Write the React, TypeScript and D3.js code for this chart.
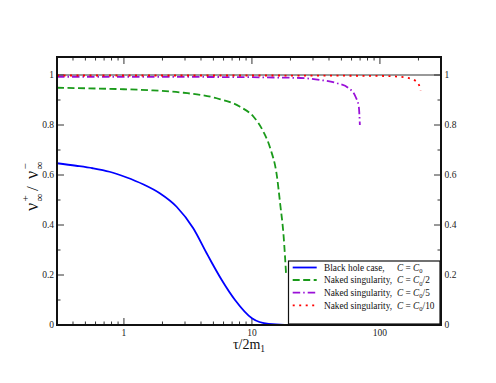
import React from "react";
import * as d3 from "d3";

const W = 496;
const H = 383;

// Series data (tau/2m1, nu+/nu-)
const blackHoleX = [0.3, 0.423, 0.571, 0.772, 1.04, 1.41, 1.905, 2.58, 3.48, 4.43, 4.85, 5.81, 7.38, 10, 13.5, 18, 25, 300];
const blackHoleY = [0.647, 0.637, 0.627, 0.613, 0.591, 0.563, 0.527, 0.473, 0.387, 0.287, 0.25, 0.18, 0.1, 0.027, 0.004, 0.0005, 0, 0];

const naked2X = [0.3, 0.6, 1, 1.59, 2.92, 5.3, 8.08, 10.3, 12.3, 13.9, 15.7, 16.6, 17.7, 18.5];
const naked2Y = [0.949, 0.946, 0.943, 0.939, 0.929, 0.907, 0.873, 0.833, 0.773, 0.707, 0.593, 0.487, 0.353, 0.2];

const naked5X = [0.3, 5, 15, 23.9, 34.3, 46.3, 57.1, 64.5, 68.4, 69.7];
const naked5Y = [0.993, 0.992, 0.99, 0.988, 0.98, 0.967, 0.947, 0.913, 0.873, 0.8];

const naked10X = [0.3, 10, 60, 108, 155, 190, 202, 208];
const naked10Y = [0.998, 0.998, 0.997, 0.996, 0.991, 0.977, 0.96, 0.937];

const xMajorTicks = [1, 10, 100];
const xMinorTicks = [0.4, 0.5, 0.6, 0.7, 0.8, 0.9, 2, 3, 4, 5, 6, 7, 8, 9, 20, 30, 40, 50, 60, 70, 80, 90, 200, 300];
const yMajorTicks = [0, 0.2, 0.4, 0.6, 0.8, 1];
const yMinorTicks = [0.1, 0.3, 0.5, 0.7, 0.9];

const legendLabels = ["Black hole case,", "Naked singularity,", "Naked singularity,", "Naked singularity,"];
const legendSuffix = ["", "/2", "/5", "/10"];

const left = 57, right = 441, top = 57, bottom = 325;

export default function App() {
  const x = d3.scaleLog().domain([0.3, 300]).range([left, right]);
  const y = d3.scaleLinear().domain([0, 1.072]).range([bottom, top]);

  const line = d3
    .line<[number, number]>()
    .x((d) => x(d[0]))
    .y((d) => y(d[1]))
    .curve(d3.curveMonotoneX);

  const zip = (a: number[], b: number[]) => a.map((v, i) => [v, b[i]] as [number, number]);

  const series = [
    { data: zip(blackHoleX, blackHoleY), color: "#0000ff", dash: "none" },
    { data: zip(naked2X, naked2Y), color: "#1a9a1a", dash: "7,3.5" },
    { data: zip(naked5X, naked5Y), color: "#9a10d8", dash: "7.5,3,1.5,3" },
    { data: zip(naked10X, naked10Y), color: "#ff0000", dash: "2,4.5" },
  ];

  const serif = "'Liberation Serif', 'Times New Roman', Times, serif";
  const tickColor = "#333";

  const legX = 288.5, legY = 261, legW = 151.5, legH = 63;
  const rowY = [267.5, 280, 292.7, 305.3];

  return (
    <svg width={W} height={H} style={{ position: "absolute", left: 0, top: 0, fontFamily: serif }}>
      <rect width={W} height={H} fill="white" />
      <defs>
        <clipPath id="plot">
          <rect x={left} y={top} width={right - left} height={bottom - top} />
        </clipPath>
      </defs>

      {/* reference line at 1 */}
      <line x1={left} x2={right} y1={y(1)} y2={y(1)} stroke="#999" strokeWidth={2} />

      {/* x ticks */}
      {xMajorTicks.map((t) => (
        <g key={"xM" + t}>
          <line x1={x(t)} x2={x(t)} y1={bottom} y2={bottom - 7} stroke={tickColor} strokeWidth={1} />
          <line x1={x(t)} x2={x(t)} y1={top} y2={top + 7} stroke={tickColor} strokeWidth={1} />
          <text x={x(t)} y={335.5} fontSize={9.5} textAnchor="middle" fill="#222" style={{ fontFamily: serif }}>
            {t}
          </text>
        </g>
      ))}
      {xMinorTicks.map((t) => (
        <g key={"xm" + t}>
          <line x1={x(t)} x2={x(t)} y1={bottom} y2={bottom - 3.5} stroke={tickColor} strokeWidth={1} />
          <line x1={x(t)} x2={x(t)} y1={top} y2={top + 3.5} stroke={tickColor} strokeWidth={1} />
        </g>
      ))}

      {/* y ticks */}
      {yMajorTicks.map((t) => (
        <g key={"yM" + t}>
          <line x1={left} x2={left + 7} y1={y(t)} y2={y(t)} stroke={tickColor} strokeWidth={1} />
          <line x1={right} x2={right - 7} y1={y(t)} y2={y(t)} stroke={tickColor} strokeWidth={1} />
          <text x={54} y={y(t) + 3.3} fontSize={9.5} textAnchor="end" fill="#222" style={{ fontFamily: serif }}>
            {String(t)}
          </text>
          <text x={444.5} y={y(t) + 3.3} fontSize={9.5} textAnchor="start" fill="#222" style={{ fontFamily: serif }}>
            {String(t)}
          </text>
        </g>
      ))}
      {yMinorTicks.map((t) => (
        <g key={"ym" + t}>
          <line x1={left} x2={left + 3.5} y1={y(t)} y2={y(t)} stroke={tickColor} strokeWidth={1} />
          <line x1={right} x2={right - 3.5} y1={y(t)} y2={y(t)} stroke={tickColor} strokeWidth={1} />
        </g>
      ))}

      {/* curves */}
      <g clipPath="url(#plot)">
        {series.map((s, i) => (
          <path
            key={i}
            d={line(s.data) || ""}
            fill="none"
            stroke={s.color}
            strokeWidth={1.8}
            strokeDasharray={s.dash}
          />
        ))}
      </g>

      {/* legend */}
      <rect x={legX} y={legY} width={legW} height={legH} fill="white" stroke="#111" strokeWidth={1.2} />
      {series.map((s, i) => (
        <g key={"leg" + i}>
          <line
            x1={292.7}
            x2={316.7}
            y1={rowY[i]}
            y2={rowY[i]}
            stroke={s.color}
            strokeWidth={1.8}
            strokeDasharray={s.dash}
          />
          <text x={324} y={rowY[i] + 3.2} fontSize={9.3} fill="#111" style={{ fontFamily: serif }}>
            {legendLabels[i]}
          </text>
          <text x={397} y={rowY[i] + 3.2} fontSize={9.3} fill="#111" style={{ fontFamily: serif }}>
            <tspan fontStyle="italic">C</tspan>
            <tspan> = </tspan>
            <tspan fontStyle="italic">C</tspan>
            <tspan fontSize={6.5} dy={2.5}>0</tspan>
            <tspan dy={-2.5}>{legendSuffix[i]}</tspan>
          </text>
        </g>
      ))}

      {/* frame */}
      <rect x={left} y={top} width={right - left} height={bottom - top} fill="none" stroke="#111" strokeWidth={2} />

      {/* x axis title */}
      <text x={249} y={349} fontSize={14} textAnchor="middle" fill="#111" style={{ fontFamily: serif }}>
        τ/2m<tspan fontSize={9.5} dy={3}>1</tspan>
      </text>

      {/* y axis title */}
      <g transform="translate(38,0) rotate(-90)" fill="#111" style={{ fontFamily: serif }}>
        <text x={-211} y={0} fontSize={18}>ν</text>
        <text x={-201.5} y={-9} fontSize={11}>+</text>
        <text x={-201.5} y={5} fontSize={11}>∞</text>
        <text x={-191} y={0} fontSize={17}>/</text>
        <text x={-179} y={0} fontSize={18}>ν</text>
        <text x={-169.5} y={-9} fontSize={11}>−</text>
        <text x={-169.5} y={5} fontSize={11}>∞</text>
      </g>
    </svg>
  );
}
